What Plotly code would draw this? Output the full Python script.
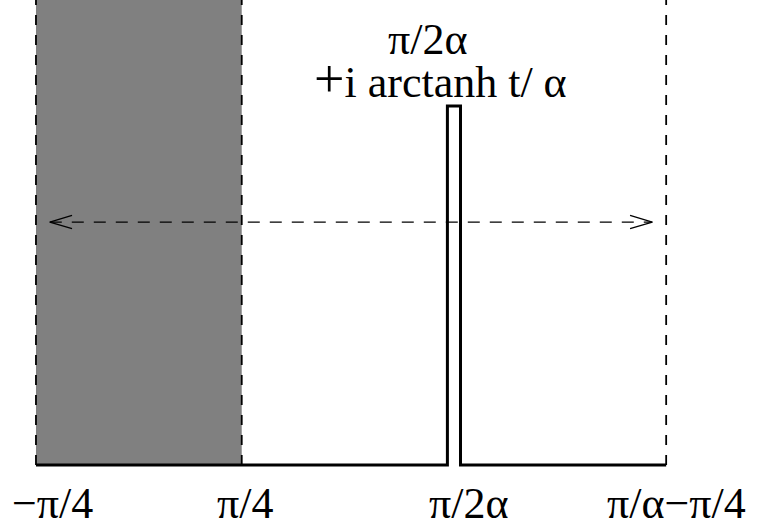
import numpy as np
import plotly.graph_objects as go

# ---- data (geometry in diagram units, alpha chosen from the picture) ----
alpha = 0.653
pi = np.pi
tick_vals = [-pi / 4, pi / 4, pi / (2 * alpha), pi / alpha - pi / 4]
tick_labels = ["−π/4", "π/4", "π/2α", "π/α−π/4"]
label_shift_px = [17, 3, 15, 10]
dashed_x = [-pi / 4, pi / 4, pi / alpha - pi / 4]
slit_half_width = 0.05
slit_height = 2.74
arrow_y = 1.855
arrow_left = -0.68
arrow_right = 3.92
head_len = 0.17
head_half = 0.05
top_label = ["π/2α", "<span style='font-size:54px'>+</span>i arctanh t/ α"]

x0, x1 = -1.060, 4.719
y0, y1 = -0.473, 3.55

fig = go.Figure()

# shaded strip
fig.add_shape(type="rect", x0=tick_vals[0], x1=tick_vals[1], y0=0, y1=y1 + 0.1,
              fillcolor="#808080", line_width=0, layer="below")

# dashed verticals
for xv in dashed_x:
    fig.add_trace(go.Scatter(x=[xv, xv], y=[0, y1 + 0.1], mode="lines",
                             line=dict(color="black", width=1.8, dash="10px,10px"),
                             hoverinfo="skip", showlegend=False))

# bottom boundary with slit
c = tick_vals[2]
bx = [tick_vals[0], c - slit_half_width, c - slit_half_width, c + slit_half_width,
      c + slit_half_width, tick_vals[3]]
by = [0, 0, slit_height, slit_height, 0, 0]
fig.add_trace(go.Scatter(x=bx, y=by, mode="lines",
                         line=dict(color="black", width=3),
                         hoverinfo="skip", showlegend=False))

# dashed double arrow
fig.add_trace(go.Scatter(x=[arrow_left, arrow_right], y=[arrow_y, arrow_y], mode="lines",
                         line=dict(color="black", width=1.3, dash="12px,10px"),
                         hoverinfo="skip", showlegend=False))
fig.add_trace(go.Scatter(x=[arrow_left + head_len, arrow_left, arrow_left + head_len],
                         y=[arrow_y + head_half, arrow_y, arrow_y - head_half], mode="lines",
                         line=dict(color="black", width=1.3),
                         hoverinfo="skip", showlegend=False))
fig.add_trace(go.Scatter(x=[arrow_right - head_len, arrow_right, arrow_right - head_len],
                         y=[arrow_y + head_half, arrow_y, arrow_y - head_half], mode="lines",
                         line=dict(color="black", width=1.3),
                         hoverinfo="skip", showlegend=False))

font = dict(family="Liberation Serif", size=44, color="black")

# bottom labels
for xv, lab, sh in zip(tick_vals, tick_labels, label_shift_px):
    fig.add_annotation(x=xv, y=-0.29, text=lab, showarrow=False, font=font,
                       xanchor="center", yanchor="middle", xshift=sh)

# top label
fig.add_annotation(x=c - 0.2, y=3.245, text=top_label[0], showarrow=False, font=font,
                   xanchor="center", yanchor="middle")
fig.add_annotation(x=c - 0.1, y=2.95, text=top_label[1], showarrow=False, font=font,
                   xanchor="center", yanchor="middle")

fig.update_layout(width=757, height=527, margin=dict(l=0, r=0, t=0, b=0),
                  plot_bgcolor="white", paper_bgcolor="white",
                  xaxis=dict(range=[x0, x1], visible=False, fixedrange=True),
                  yaxis=dict(range=[y0, y1], visible=False, fixedrange=True),
                  showlegend=False)

fig.write_html("out.html", config={"displayModeBar": False},
               post_script="document.body.style.margin='0px';")
